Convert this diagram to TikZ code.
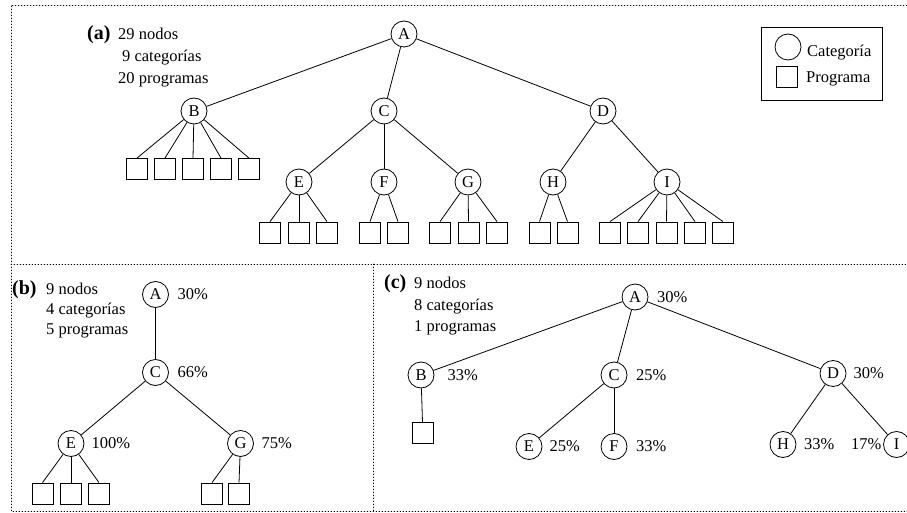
\documentclass[tikz,border=0pt]{standalone}
\usepackage{fontspec}
\setmainfont{Liberation Serif}
\begin{document}
\begin{tikzpicture}[x=1pt,y=-1pt,
  every node/.style={font=\fontsize{16.5}{21}\selectfont},
  cat/.style={draw,circle,line width=0.8pt,minimum size=26pt,inner sep=0pt},
  prog/.style={draw,rectangle,line width=0.8pt,minimum size=21pt,inner sep=0pt},
  txt/.style={anchor=base west,inner sep=0pt},
  panellabel/.style={txt,font=\fontsize{20}{24}\selectfont\bfseries},
  pct/.style={anchor=west,inner sep=0pt,xshift=4pt},
  edge/.style={line width=0.8pt},
  frame/.style={line width=0.7pt,dash pattern=on 0.8pt off 2.2pt,line cap=round}]
\useasboundingbox (0,0) rectangle (907,513);

% panel frames
\draw[frame] (907,5) -- (11,5) -- (11,511) -- (907,511);
\draw[frame] (11,264) -- (907,264);
\draw[frame] (373,264) -- (373,511);

% ---------- (a) full tree ----------
\node[panellabel] (la) at (87,40) {(a)};
\node[txt] (la1) at (118,40) {29 nodos};
\node[txt] (la2) at (122,62) {9 categorías};
\node[txt] (la3) at (118,84) {20 programas};

\node[cat] (aA) at (404,34) {A};
\node[cat] (aB) at (194,111) {B};
\node[cat] (aC) at (384,111) {C};
\node[cat] (aD) at (603,111) {D};
\node[cat] (aE) at (299,182) {E};
\node[cat] (aF) at (384,182) {F};
\node[cat] (aG) at (468,182) {G};
\node[cat] (aH) at (553,182) {H};
\node[cat] (aI) at (667,182) {I};

\foreach \n/\x in {1/137,2/165,3/193,4/221,5/249}
  \node[prog] (aB\n) at (\x,169) {};
\foreach \n/\x in {1/270,2/299,3/327}
  \node[prog] (aE\n) at (\x,232.5) {};
\foreach \n/\x in {1/370,2/398}
  \node[prog] (aF\n) at (\x,232.5) {};
\foreach \n/\x in {1/440,2/468.5,3/497}
  \node[prog] (aG\n) at (\x,232.5) {};
\foreach \n/\x in {1/539.5,2/567.5}
  \node[prog] (aH\n) at (\x,232.5) {};
\foreach \n/\x in {1/610,2/638,3/666.5,4/695,5/723}
  \node[prog] (aI\n) at (\x,232.5) {};

\draw[edge] (aA) -- (aB);
\draw[edge] (aA) -- (aC);
\draw[edge] (aA) -- (aD);
\draw[edge] (aC) -- (aE);
\draw[edge] (aC) -- (aF);
\draw[edge] (aC) -- (aG);
\draw[edge] (aD) -- (aH);
\draw[edge] (aD) -- (aI);
\foreach \n in {1,...,5} \draw[edge] (aB) -- (aB\n.north);
\foreach \n in {1,2,3} \draw[edge] (aE) -- (aE\n.north);
\foreach \n in {1,2} \draw[edge] (aF) -- (aF\n.north);
\foreach \n in {1,2,3} \draw[edge] (aG) -- (aG\n.north);
\foreach \n in {1,2} \draw[edge] (aH) -- (aH\n.north);
\foreach \n in {1,...,5} \draw[edge] (aI) -- (aI\n.north);

% legend
\node[draw,line width=0.8pt,minimum width=121pt,minimum height=73pt,inner sep=0pt] (leg) at (821.5,63.5) {};
\node[cat] (legc) at (788,47) {};
\node[prog] (legs) at (787,77) {};
\node[txt] (legct) at (807,57) {Categoría};
\node[txt] (legst) at (806,83) {Programa};

% ---------- (b) ----------
\node[panellabel] (lb) at (12,294) {(b)};
\node[txt] (lb1) at (46,294) {9 nodos};
\node[txt] (lb2) at (46,314) {4 categorías};
\node[txt] (lb3) at (46,334) {5 programas};

\node[cat] (bA) at (155.5,294.5) {A};
\node[cat] (bC) at (155.5,372.5) {C};
\node[cat] (bE) at (71,443.5) {E};
\node[cat] (bG) at (240.5,443.5) {G};
\node[pct,xshift=4.5pt] (pbA) at (bA.east) {30\%};
\node[pct,xshift=4.5pt] (pbC) at (bC.east) {66\%};
\node[pct,xshift=3pt] (pbE) at (bE.east) {100\%};
\node[pct,xshift=3.5pt] (pbG) at (bG.east) {75\%};

\foreach \n/\x in {1/42.5,2/71,3/99}
  \node[prog] (bE\n) at (\x,493.5) {};
\foreach \n/\x in {1/212,2/239}
  \node[prog] (bG\n) at (\x,493.5) {};

\draw[edge] (bA) -- (bC);
\draw[edge] (bC) -- (bE);
\draw[edge] (bC) -- (bG);
\foreach \n in {1,2,3} \draw[edge] (bE) -- (bE\n.north);
\foreach \n in {1,2} \draw[edge] (bG) -- (bG\n.north);

% ---------- (c) ----------
\node[panellabel] (lc) at (384,288) {(c)};
\node[txt] (lc1) at (414,288) {9 nodos};
\node[txt] (lc2) at (414,310) {8 categorías};
\node[txt] (lc3) at (414,331.5) {1 programas};

\node[cat] (cA) at (635,297) {A};
\node[cat] (cB) at (421,375) {B};
\node[cat] (cC) at (614,375) {C};
\node[cat] (cD) at (833,373.5) {D};
\node[cat] (cE) at (529,446.5) {E};
\node[cat] (cF) at (614,446.5) {F};
\node[cat] (cH) at (783,444.5) {H};
\node[cat] (cI) at (896.5,444.5) {I};
\node[prog] (cB1) at (422.5,433) {};

\node[pct,xshift=4.5pt] (pcA) at (cA.east) {30\%};
\node[pct,xshift=9pt] (pcB) at (cB.east) {33\%};
\node[pct,xshift=4.5pt] (pcC) at (cC.east) {25\%};
\node[pct,xshift=3pt] (pcD) at (cD.east) {30\%};
\node[pct,xshift=3pt] (pcE) at (cE.east) {25\%};
\node[pct,xshift=4.5pt] (pcF) at (cF.east) {33\%};
\node[pct,xshift=3.5pt] (pcH) at (cH.east) {33\%};
\node[anchor=east,inner sep=0pt,xshift=-1.5pt] (pcI) at (cI.west) {17\%};

\draw[edge] (cA) -- (cB);
\draw[edge] (cA) -- (cC);
\draw[edge] (cA) -- (cD);
\draw[edge] (cC) -- (cE);
\draw[edge] (cC) -- (cF);
\draw[edge] (cD) -- (cH);
\draw[edge] (cD) -- (cI);
\draw[edge] (cB) -- (cB1.north);
\end{tikzpicture}
\end{document}
